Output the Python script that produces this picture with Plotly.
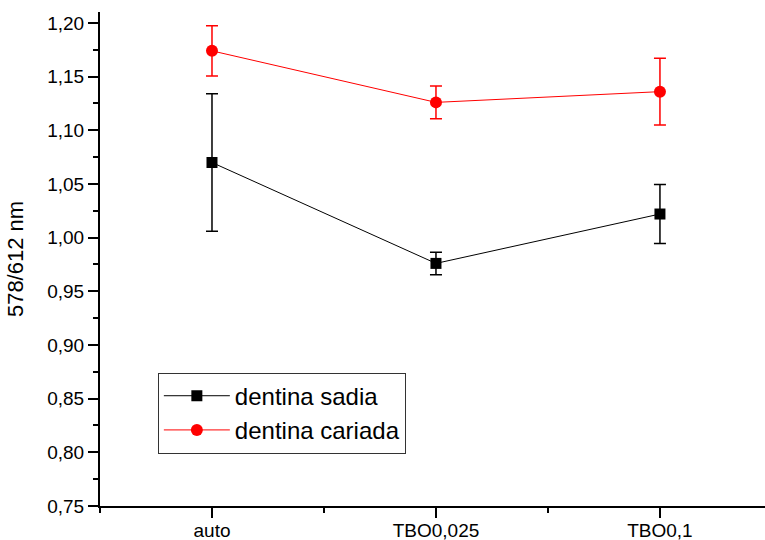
import plotly.graph_objects as go

categories = ["auto", "TBO0,025", "TBO0,1"]
sadia = [1.070, 0.976, 1.022]
sadia_err = [0.064, 0.0105, 0.0275]
cariada = [1.174, 1.126, 1.136]
cariada_err = [0.0235, 0.0153, 0.031]
y_ticks = [0.75, 0.80, 0.85, 0.90, 0.95, 1.00, 1.05, 1.10, 1.15, 1.20]

xpos = list(range(len(categories)))
FONT = "Arial, Liberation Sans, sans-serif"

fig = go.Figure()
fig.add_trace(go.Scatter(
    x=xpos, y=sadia, name="dentina sadia", mode="lines+markers",
    line=dict(color="black", width=1),
    marker=dict(symbol="square", size=11, color="black"),
    error_y=dict(type="data", array=sadia_err, visible=True,
                 color="black", thickness=1.5, width=6),
))
fig.add_trace(go.Scatter(
    x=xpos, y=cariada, name="dentina cariada", mode="lines+markers",
    line=dict(color="#ff0000", width=1),
    marker=dict(symbol="circle", size=12, color="#ff0000"),
    error_y=dict(type="data", array=cariada_err, visible=True,
                 color="#ff0000", thickness=1.5, width=6),
))

fig.update_layout(
    width=765, height=540,
    margin=dict(l=100, r=0, t=12, b=34),
    plot_bgcolor="white", paper_bgcolor="white",
    separators=", ",
    font=dict(family=FONT, color="black", size=19),
    showlegend=True,
    legend=dict(
        x=0.087, y=0.27, xanchor="left", yanchor="top",
        bordercolor="#333333", borderwidth=1, bgcolor="white",
        font=dict(family=FONT, size=24, color="black"),
        itemwidth=66, tracegroupgap=0,
    ),
)

fig.update_xaxes(
    range=[-0.5, 2.469], tickvals=xpos, ticktext=categories,
    automargin=False,
    showgrid=False, zeroline=False,
    showline=True, linecolor="black", linewidth=2,
    ticks="outside", ticklen=10, tickwidth=2, tickcolor="black",
    minor=dict(ticks="outside", ticklen=5, tickwidth=2, tickcolor="black",
               dtick=0.5, tick0=-0.5, showgrid=False),
    tickfont=dict(size=19),
    ticklabelstandoff=-4,
)
fig.update_yaxes(
    range=[0.75, 1.2102], tickvals=y_ticks, tickformat=".2f",
    automargin=False,
    showgrid=False, zeroline=False,
    showline=True, linecolor="black", linewidth=2,
    ticks="outside", ticklen=10, tickwidth=2, tickcolor="black",
    minor=dict(ticks="outside", ticklen=5, tickwidth=2, tickcolor="black",
               dtick=0.025, tick0=0.75, showgrid=False),
    tickfont=dict(size=19),
    title=dict(text="578/612 nm", font=dict(size=22), standoff=18),
)

fig.write_html(
    "out.html",
    config={"displayModeBar": False},
    post_script="document.body.style.margin='0';document.body.style.overflow='hidden';",
)
